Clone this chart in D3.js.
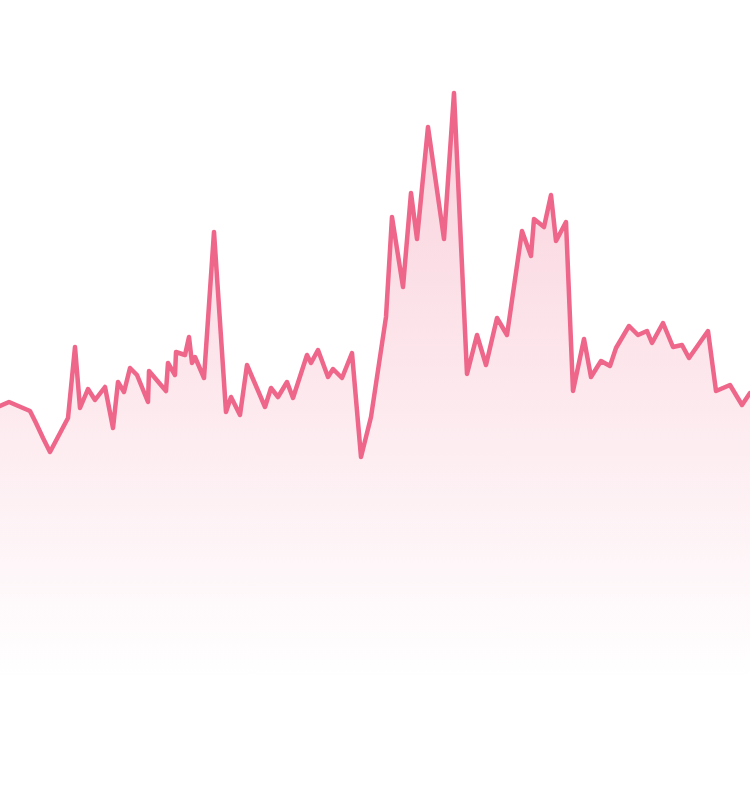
<!DOCTYPE html>
<html><head><meta charset="utf-8">
<script src="https://cdn.jsdelivr.net/npm/d3@7"></script>
<style>html,body{margin:0;padding:0;background:#fff;}svg{display:block;}</style>
</head><body>
<svg id="chart" width="750" height="798"></svg>
<script>
// x positions (time units) and values
const xs = [0,0.9,3.0,3.6,4.3,5.0,6.8,7.5,8.0,8.8,9.5,10.5,11.3,11.8,12.4,13.0,13.7,14.8,14.9,16.6,16.8,17.5,17.6,18.5,18.9,19.2,19.5,20.4,21.4,22.6,23.1,24.0,24.7,26.5,27.1,27.8,28.7,29.3,30.7,31.1,31.8,32.8,33.3,34.2,35.2,36.1,37.1,38.6,39.2,40.3,41.1,41.7,42.8,44.4,45.4,46.7,47.7,48.6,49.7,50.7,52.2,53.1,53.4,54.4,55.1,55.6,56.6,57.3,58.4,59.1,60.1,61.0,61.6,62.9,63.8,64.7,65.2,66.3,67.3,68.2,68.9,70.8,71.6,73.0,74.2,75.0];
const values = [39.2,39.6,38.7,37.5,36.0,34.6,38.0,45.1,39.0,40.9,39.8,41.1,37.0,41.6,40.6,43.0,42.3,39.6,42.7,40.7,43.5,42.3,44.6,44.3,46.1,43.5,44.1,42.0,56.6,38.6,40.1,38.3,43.3,39.1,41.0,40.1,41.6,40.0,44.3,43.5,44.8,42.1,42.9,42.0,44.5,34.1,38.1,48.1,58.1,51.1,60.5,55.9,67.1,55.9,70.5,42.4,46.3,43.3,48.0,46.3,56.7,54.2,57.9,57.1,60.3,55.7,57.6,40.7,45.9,42.1,43.7,43.2,45.0,47.2,46.3,46.7,45.5,47.5,45.1,45.3,44.0,46.7,40.7,41.3,39.3,40.5];

const W = 750, H = 798;
const svg = d3.select("#chart");
const data = xs.map((x, i) => ({x, v: values[i]}));

const x = d3.scaleLinear().domain([0, 75]).range([0, W]);
const y = d3.scaleLinear().domain([0, 79.8]).range([H, 0]);

const lineColor = "#ee6689";
const defs = svg.append("defs");
const grad = defs.append("linearGradient")
  .attr("id", "fillGrad").attr("gradientUnits", "userSpaceOnUse")
  .attr("x1", 0).attr("x2", 0).attr("y1", y(70.5)).attr("y2", 680);
grad.append("stop").attr("offset", 0).attr("stop-color", lineColor).attr("stop-opacity", 0.3);
grad.append("stop").attr("offset", 1).attr("stop-color", lineColor).attr("stop-opacity", 0);

const area = d3.area().x(d => x(d.x)).y0(H).y1(d => y(d.v));
const line = d3.line().x(d => x(d.x)).y(d => y(d.v));

svg.append("path").datum(data).attr("d", area).attr("fill", "url(#fillGrad)");
svg.append("path").datum(data).attr("d", line)
  .attr("fill", "none").attr("stroke", lineColor)
  .attr("stroke-width", 4.5).attr("stroke-linejoin", "round").attr("stroke-linecap", "round");
</script>
</body></html>
